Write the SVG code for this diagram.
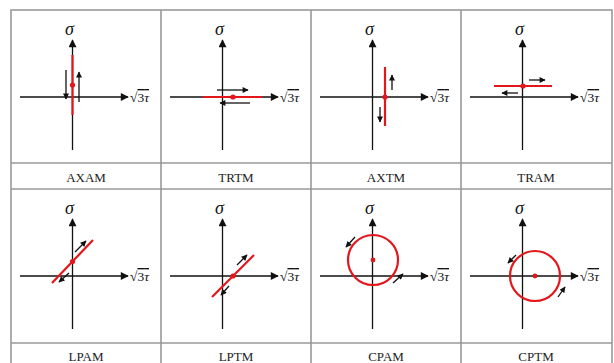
<svg xmlns="http://www.w3.org/2000/svg" width="614" height="363" viewBox="0 0 614 363">
<style>
.grid{fill:none;stroke:#999;stroke-width:1.6}
.ax{stroke:#111;stroke-width:1.3;fill:none;marker-end:url(#ah)}
.ar{stroke:#111;stroke-width:1.3;fill:none;marker-end:url(#sh)}
.red{stroke:#e3161b;stroke-width:2.2;fill:none}
.dot{fill:#e3161b}
.sig{font-family:"Liberation Serif",serif;font-style:italic;font-size:18px;fill:#111}
.tau{font-family:"Liberation Serif",serif;font-size:13.5px;fill:#111}
.lab{font-family:"Liberation Serif",serif;font-size:13px;fill:#222;text-anchor:middle}
</style>
<defs>
<marker id="ah" viewBox="0 0 10 10" refX="9" refY="5" markerWidth="9" markerHeight="8" markerUnits="userSpaceOnUse" orient="auto"><path d="M0,0 L10,5 L0,10 z" fill="#111"/></marker>
<marker id="sh" viewBox="0 0 10 10" refX="9" refY="5" markerWidth="7" markerHeight="6" markerUnits="userSpaceOnUse" orient="auto"><path d="M0,0 L10,5 L0,10 z" fill="#111"/></marker>
<g id="axes">
<line class="ax" x1="61.5" y1="140" x2="61.5" y2="30"/>
<line class="ax" x1="9" y1="87" x2="117" y2="87"/>
<text class="sig" x="54" y="25">σ</text>
<text class="tau" x="119" y="92">√<tspan text-decoration="overline">3<tspan font-style="italic">τ</tspan></tspan></text>
</g>
</defs>
<rect width="614" height="363" fill="#fff"/>
<g id="grid">
<rect class="grid" x="11" y="10" width="601" height="360"/>
<line class="grid" x1="161" y1="10" x2="161" y2="370"/>
<line class="grid" x1="311" y1="10" x2="311" y2="370"/>
<line class="grid" x1="461" y1="10" x2="461" y2="370"/>
<line class="grid" x1="11" y1="163" x2="612" y2="163"/>
<line class="grid" x1="11" y1="189" x2="612" y2="189"/>
<line class="grid" x1="11" y1="343" x2="612" y2="343"/>
</g>
<g id="AXAM" transform="translate(11,10)">
<use href="#axes"/>
<line class="red" x1="61.5" y1="45" x2="61.5" y2="105"/>
<circle class="dot" cx="61.5" cy="75" r="2.6"/>
<line class="ar" x1="55" y1="60" x2="55" y2="89"/>
<line class="ar" x1="68" y1="92" x2="68" y2="62"/>
<text class="lab" x="75" y="172">AXAM</text>
</g>
<g id="TRTM" transform="translate(161,10)">
<use href="#axes"/>
<line class="red" x1="42" y1="87" x2="101" y2="87"/>
<circle class="dot" cx="72" cy="87" r="2.6"/>
<line class="ar" x1="56" y1="80" x2="87" y2="80"/>
<line class="ar" x1="89" y1="93" x2="59" y2="93"/>
<text class="lab" x="75" y="172">TRTM</text>
</g>
<g id="AXTM" transform="translate(311,10)">
<use href="#axes"/>
<line class="red" x1="74" y1="57" x2="74" y2="116"/>
<circle class="dot" cx="74" cy="87" r="2.6"/>
<line class="ar" x1="81" y1="80" x2="81" y2="65"/>
<line class="ar" x1="69" y1="97" x2="69" y2="112"/>
<text class="lab" x="75" y="172">AXTM</text>
</g>
<g id="TRAM" transform="translate(461,10)">
<use href="#axes"/>
<line class="red" x1="33" y1="76" x2="91" y2="76"/>
<circle class="dot" cx="62" cy="76" r="2.6"/>
<line class="ar" x1="68" y1="70" x2="84" y2="70"/>
<line class="ar" x1="57" y1="83" x2="41" y2="83"/>
<text class="lab" x="75" y="172">TRAM</text>
</g>
<g id="LPAM" transform="translate(11,189)">
<use href="#axes"/>
<line class="red" x1="41" y1="94" x2="82" y2="51"/>
<circle class="dot" cx="61.5" cy="72.5" r="2.6"/>
<line class="ar" x1="64" y1="63" x2="75" y2="52"/>
<line class="ar" x1="58" y1="84" x2="48" y2="93"/>
<text class="lab" x="75" y="172">LPAM</text>
</g>
<g id="LPTM" transform="translate(161,189)">
<use href="#axes"/>
<line class="red" x1="51" y1="108" x2="93" y2="66"/>
<circle class="dot" cx="72" cy="87" r="2.6"/>
<line class="ar" x1="76" y1="76" x2="86" y2="66"/>
<line class="ar" x1="68" y1="97" x2="60" y2="106"/>
<text class="lab" x="75" y="172">LPTM</text>
</g>
<g id="CPAM" transform="translate(311,189)">
<use href="#axes"/>
<circle class="red" cx="62" cy="71" r="25"/>
<circle class="dot" cx="62" cy="71" r="2.4"/>
<line class="ar" x1="44" y1="48" x2="35" y2="58"/>
<line class="ar" x1="82" y1="94" x2="92" y2="85"/>
<text class="lab" x="75" y="172">CPAM</text>
</g>
<g id="CPTM" transform="translate(461,189)">
<use href="#axes"/>
<circle class="red" cx="74" cy="87" r="25"/>
<circle class="dot" cx="74" cy="87" r="2.4"/>
<line class="ar" x1="55" y1="66" x2="47" y2="74"/>
<line class="ar" x1="97" y1="108" x2="104" y2="98"/>
<text class="lab" x="75" y="172">CPTM</text>
</g>
</svg>
